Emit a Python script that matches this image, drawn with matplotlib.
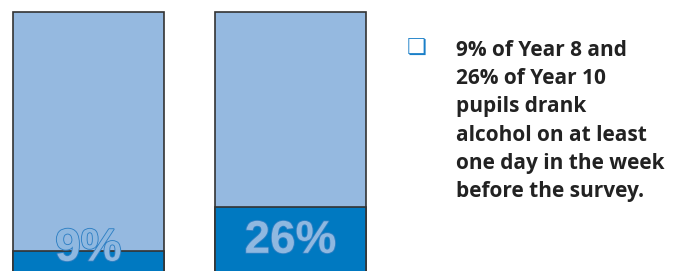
import matplotlib.pyplot as plt
import matplotlib.patheffects as pe

# data
groups = ["Year 8", "Year 10"]
drank = [9, 26]
labels = ["9%", "26%"]
note = ("9% of Year 8 and\n26% of Year 10\npupils drank\n"
        "alcohol on at least\none day in the week\nbefore the survey.")

light = "#95b9e0"
dark = "#0079c1"

fig = plt.figure(figsize=(6.82, 2.71), dpi=100)
W, H = 682, 271
# bars run a little past the bottom edge, as in the original
ax = fig.add_axes([13 / W, -4 / H, (366 - 13) / W, (275 - 12) / H])
x = list(range(len(groups)))
w = 0.746
ax.bar(x, [100] * len(groups), width=w, color=light, edgecolor="#333333",
       linewidth=1.2, clip_on=False)
ax.bar(x, drank, width=w, color=dark, edgecolor="#333333",
       linewidth=1.2, clip_on=False)

for xi, v, lab in zip(x, drank, labels):
    y = v / 2 if v > 15 else v + 1
    ax.text(xi, y, lab, ha="center", va="center", fontsize=33,
            fontweight="bold", family="Liberation Sans", color="#8fb8e0",
            path_effects=[pe.withStroke(linewidth=1.3, foreground="#2f80c4")])

ax.set_xlim(-w / 2, 1 + w / 2)
ax.set_ylim(0, 100)
ax.axis("off")

# bullet and note
fig.text(407 / W, 1 - 48 / H, "\u274f", fontsize=16, color="#1a7fc8",
         ha="left", va="center", family="DejaVu Sans", fontweight="bold")
fig.text(456 / W, 1 - 40 / H, note, fontsize=15, fontweight="bold",
         family="Open Sans", color="#222222", ha="left", va="top",
         linespacing=1.45)

fig.savefig("out.png", dpi=100)
